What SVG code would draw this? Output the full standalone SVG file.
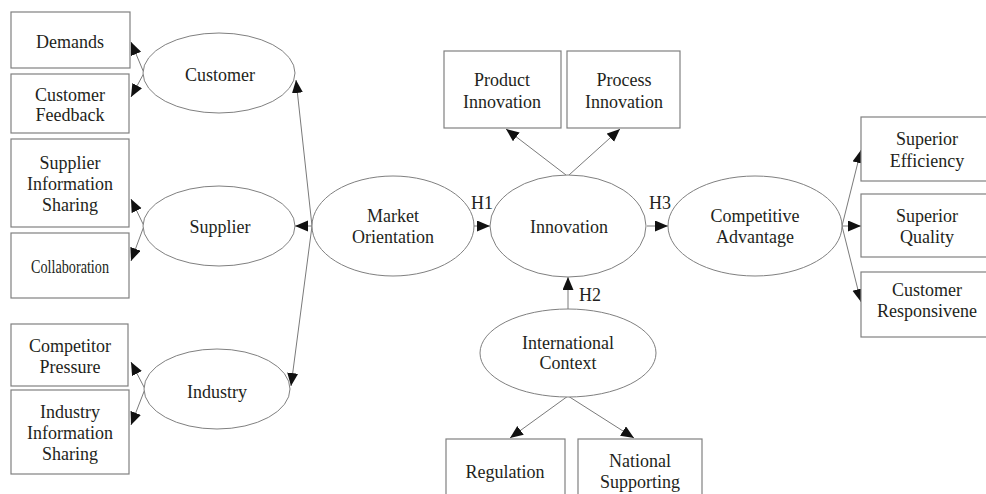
<svg xmlns="http://www.w3.org/2000/svg" width="986" height="494" viewBox="0 0 986 494">
<style>
.box{fill:#fff;stroke:#808080;stroke-width:1.2}
.ell{fill:#fff;stroke:#808080;stroke-width:1}
.ln{fill:none;stroke:#7a7a7a;stroke-width:1;marker-end:url(#ah)}
text{font-family:"Liberation Serif","Times New Roman",serif;font-size:18px;fill:#231f20;text-anchor:middle}
</style>
<defs>
<marker id="ah" markerUnits="userSpaceOnUse" markerWidth="14" markerHeight="12" refX="13" refY="5.5" orient="auto">
<path d="M0,0 L13,5.5 L0,11 z" fill="#111"/>
</marker>
<clipPath id="rclip"><rect x="861" y="0" width="125" height="494"/></clipPath>
</defs>
<rect width="986" height="494" fill="#fff"/>
<g id="connectors">
<line class="ln" x1="144" y1="73" x2="131" y2="42"/>
<line class="ln" x1="144" y1="73" x2="131" y2="97"/>
<line class="ln" x1="144" y1="226" x2="131" y2="199"/>
<line class="ln" x1="144" y1="226" x2="131" y2="261"/>
<line class="ln" x1="145" y1="389" x2="131" y2="362"/>
<line class="ln" x1="145" y1="389" x2="131" y2="425"/>
<line class="ln" x1="312" y1="226" x2="296" y2="80"/>
<line class="ln" x1="312" y1="226" x2="295" y2="226"/>
<line class="ln" x1="312" y1="226" x2="291" y2="386"/>
<line class="ln" x1="474" y1="226" x2="490" y2="226"/>
<line class="ln" x1="647" y1="226" x2="668" y2="226"/>
<line class="ln" x1="568" y1="309" x2="568" y2="277"/>
<line class="ln" x1="566" y1="175" x2="506" y2="129"/>
<line class="ln" x1="569" y1="175" x2="620" y2="129"/>
<line class="ln" x1="842" y1="226" x2="861" y2="150"/>
<line class="ln" x1="842" y1="226" x2="861" y2="226"/>
<line class="ln" x1="842" y1="226" x2="861" y2="302"/>
<line class="ln" x1="568" y1="396" x2="510" y2="438"/>
<line class="ln" x1="568" y1="396" x2="634" y2="438"/>
<text x="482" y="209">H1</text>
<text x="660" y="209">H3</text>
<text x="590" y="301">H2</text>
</g>
<g id="demands"><rect class="box" x="11" y="12" width="119" height="56"/><text x="70" y="48">Demands</text></g>
<g id="customer-feedback"><rect class="box" x="11" y="74" width="118" height="59"/><text x="70" y="101">Customer</text><text x="70" y="121">Feedback</text></g>
<g id="supplier-info"><rect class="box" x="11" y="139" width="118" height="88"/><text x="70" y="169">Supplier</text><text x="70" y="190">Information</text><text x="70" y="211">Sharing</text></g>
<g id="collaboration"><rect class="box" x="11" y="233" width="118" height="65"/><text x="70" y="273" textLength="78" lengthAdjust="spacingAndGlyphs">Collaboration</text></g>
<g id="competitor-pressure"><rect class="box" x="11" y="324" width="117" height="62"/><text x="70" y="352">Competitor</text><text x="70" y="373">Pressure</text></g>
<g id="industry-info"><rect class="box" x="11" y="390" width="118" height="84"/><text x="70" y="418">Industry</text><text x="70" y="439">Information</text><text x="70" y="460">Sharing</text></g>
<g id="customer"><ellipse class="ell" cx="219" cy="73" rx="76" ry="40"/><text x="220" y="81">Customer</text></g>
<g id="supplier"><ellipse class="ell" cx="219" cy="226" rx="76" ry="40"/><text x="220" y="233">Supplier</text></g>
<g id="industry"><ellipse class="ell" cx="217" cy="389" rx="73" ry="40"/><text x="217" y="398">Industry</text></g>
<g id="market-orientation"><ellipse class="ell" cx="393" cy="226" rx="81" ry="50"/><text x="393" y="222">Market</text><text x="393" y="243">Orientation</text></g>
<g id="innovation"><ellipse class="ell" cx="568" cy="226" rx="78" ry="51"/><text x="569" y="233">Innovation</text></g>
<g id="competitive-advantage"><ellipse class="ell" cx="755" cy="226" rx="87" ry="50"/><text x="755" y="222">Competitive</text><text x="755" y="243">Advantage</text></g>
<g id="international-context"><ellipse class="ell" cx="568" cy="353" rx="88" ry="44"/><text x="568" y="349">International</text><text x="568" y="369">Context</text></g>
<g id="product-innovation"><rect class="box" x="444" y="51" width="117" height="77"/><text x="502" y="86">Product</text><text x="502" y="108">Innovation</text></g>
<g id="process-innovation"><rect class="box" x="567" y="51" width="113" height="77"/><text x="624" y="86">Process</text><text x="624" y="108">Innovation</text></g>
<g id="superior-efficiency"><rect class="box" x="861" y="117" width="130" height="64"/><text x="927" y="145">Superior</text><text x="927" y="167">Efficiency</text></g>
<g id="superior-quality"><rect class="box" x="861" y="194" width="130" height="63"/><text x="927" y="222">Superior</text><text x="927" y="243">Quality</text></g>
<g id="customer-responsiveness"><rect class="box" x="861" y="272" width="130" height="65"/><g clip-path="url(#rclip)"><text x="927" y="296">Customer</text><text x="927" y="317">Responsivene</text></g></g>
<g id="regulation"><rect class="box" x="446" y="439" width="119" height="60"/><text x="505" y="478">Regulation</text></g>
<g id="national-supporting"><rect class="box" x="578" y="439" width="124" height="60"/><text x="640" y="467">National</text><text x="640" y="488">Supporting</text></g>
</svg>
